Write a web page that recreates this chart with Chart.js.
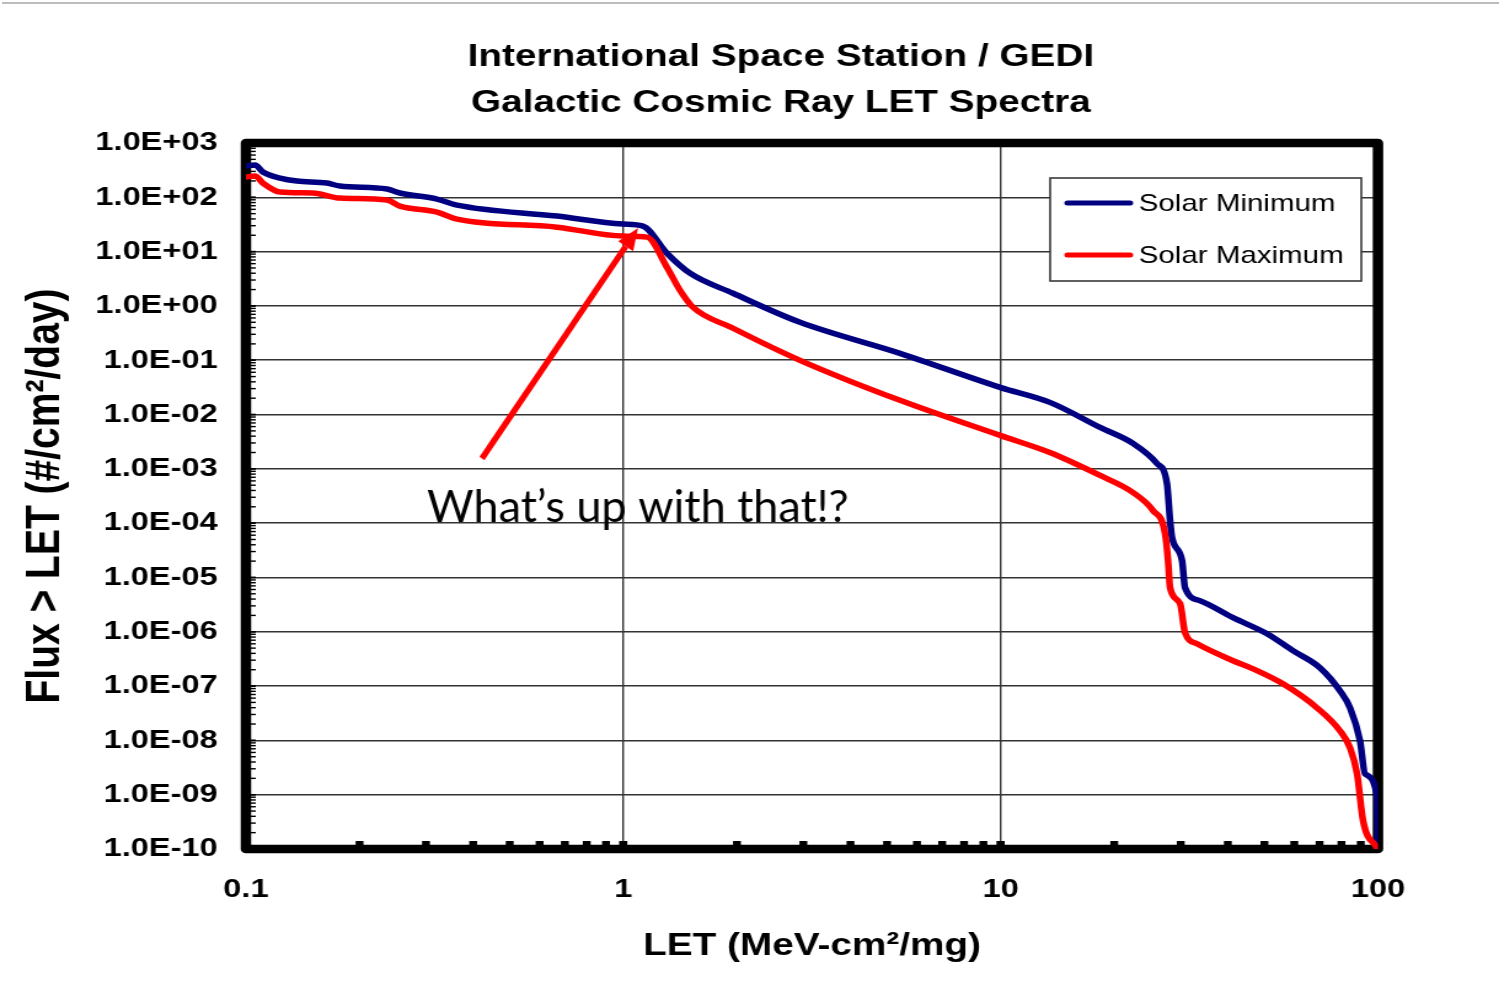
<!DOCTYPE html>
<html>
<head>
<meta charset="utf-8">
<script src="https://cdn.jsdelivr.net/npm/chart.js@4.4.0/dist/chart.umd.min.js"></script>
<style>
  html, body { margin: 0; padding: 0; background: #fff; overflow: hidden; }
  #slideLine { position: absolute; left: 2px; top: 2px; width: 1497px; height: 2px; background: #bdbdbd; }
  /* the chart picture in the slide is stretched sideways, so draw narrow and scale */
  #wrap { position: absolute; left: 0; top: 0; width: 1219px; height: 1004px; transform: scaleX(1.2297); transform-origin: 0 0; }
</style>
</head>
<body>
<div id="slideLine"></div>
<div id="wrap"><canvas id="letChart"></canvas></div>
<script>
const STRETCH = 1499 / 1219;

// LET values (MeV-cm2/mg) and integral flux (#/cm2/day)
const minLet = [0.1, 0.1057, 0.1109, 0.1231, 0.1365, 0.1639, 0.1774, 0.2364, 0.2558, 0.3208, 0.3624, 0.6672,
  0.998, 1.127, 1.305, 1.502, 1.953, 2.939, 5.41, 9.96, 13.5, 18.34, 22.42, 25.96, 27.59, 28.11, 28.45,
  30.24, 30.8, 33.75, 41.28, 50.8, 59.5, 70.2, 79.3, 84.3, 89.6, 92.4, 99.4, 100];
const minFlux = [377, 393, 292, 226, 199, 183, 161, 142, 120, 92.7, 71.9, 45.1,
  32.1, 29.5, 9.37, 4.01, 1.71, 0.5, 0.134, 0.0317, 0.01675, 0.00579, 0.00294, 0.001256, 5.37e-4, 1.12e-4, 5.43e-5,
  2.05e-5, 6.5e-6, 3.74e-6, 1.82e-6, 9.2e-7, 4.48e-7, 2.17e-7, 8.18e-8, 3.98e-8, 9.8e-9, 2.42e-9, 9.5e-10, 1e-10];

const maxLet = [0.1, 0.1057, 0.1109, 0.1231, 0.1505, 0.1774, 0.2364, 0.2558, 0.3208, 0.3624, 0.6672,
  0.998, 1.155, 1.305, 1.413, 1.53, 1.953, 2.939, 5.41, 9.96, 13.5, 18.34, 22.42, 25.33, 27.27, 27.77, 28.11,
  29.88, 30.8, 33.15, 41.28, 46.65, 56.0, 68.9, 79.3, 84.3, 88.0, 91.3, 99.4];
const maxFlux = [236, 246, 183, 125, 120, 96.8, 88.9, 68.9, 53.4, 39.7, 28.2,
  19.3, 18.5, 5.17, 1.95, 0.946, 0.388, 0.0997, 0.01824, 0.00413, 0.002, 7.55e-4, 3.67e-4, 1.71e-4, 6.43e-5, 2.05e-5, 6.5e-6,
  3.3e-6, 9.6e-7, 6.0e-7, 2.93e-7, 2.08e-7, 1.1e-7, 3.98e-8, 1.5e-8, 7.28e-9, 2.42e-9, 3.28e-10, 1.04e-10];

const seriesNames = ['Solar Minimum', 'Solar Maximum'];
const seriesColors = ['#000080', '#ff0000'];

const xTicks = [0.1, 1, 10, 100];
const yTicks = [1e-10, 1e-9, 1e-8, 1e-7, 1e-6, 1e-5, 1e-4, 1e-3, 1e-2, 1e-1, 1, 1e1, 1e2, 1e3];

const titleLines = ['International Space Station / GEDI', 'Galactic Cosmic Ray LET Spectra'];
const noteText = 'What\u2019s up with that!?';
const noteAt = [0.302, 1.0e-4];          // left end of text baseline, data coords
const arrowFrom = [0.422, 1.55e-3];
const arrowTo = [1.094, 27.1];

function sci(v) {
  const e = Math.round(Math.log10(v));
  const m = v / Math.pow(10, e);
  return m.toFixed(1) + 'E' + (e < 0 ? '-' : '+') + String(Math.abs(e)).padStart(2, '0');
}

function toPoints(xs, ys) {
  return xs.map((x, i) => ({ x: x, y: ys[i] }));
}

// frame, minor ticks, legend box, title and the note
const decor = {
  id: 'decor',
  beforeDatasetsDraw(chart) {
    const ctx = chart.ctx;
    const a = chart.chartArea;
    const xs = chart.scales.x, ys = chart.scales.y;
    ctx.save();
    ctx.fillStyle = '#000';
    // minor ticks along bottom
    for (let d = 0.1; d < 100; d *= 10) {
      for (let k = 1; k <= 10; k++) {
        const px = xs.getPixelForValue(d * k);
        ctx.fillRect(px - 3.2, a.bottom - 8, 6.4, 6);
      }
    }
    // minor ticks along left
    for (let d = 1e-10; d < 1e3; d *= 10) {
      for (let k = 1; k <= 10; k++) {
        const py = ys.getPixelForValue(d * k);
        ctx.fillRect(a.left, py - 0.7, 8, 1.4);
      }
    }
    ctx.strokeStyle = '#000';
    ctx.lineWidth = 8.5;
    ctx.lineJoin = 'round';
    ctx.strokeRect(a.left, a.top, a.right - a.left, a.bottom - a.top);
    ctx.restore();
  },
  afterDraw(chart) {
    const ctx = chart.ctx;
    const xs = chart.scales.x, ys = chart.scales.y;
    ctx.save();

    // title
    ctx.fillStyle = '#000';
    ctx.font = 'bold 31.5px "Liberation Sans", Arial, sans-serif';
    ctx.textAlign = 'center';
    ctx.textBaseline = 'alphabetic';
    ctx.fillText(titleLines[0], 635, 66);
    ctx.fillText(titleLines[1], 635, 112);

    // legend
    const bx = 854, by = 178, bw = 253, bh = 103;
    ctx.fillStyle = '#fff';
    ctx.fillRect(bx, by, bw, bh);
    ctx.strokeStyle = '#3a3a3a';
    ctx.lineWidth = 1.6;
    ctx.strokeRect(bx, by, bw, bh);
    ctx.font = '24px "Liberation Sans", Arial, sans-serif';
    ctx.textAlign = 'left';
    ctx.textBaseline = 'middle';
    ctx.lineCap = 'round';
    seriesNames.forEach((name, i) => {
      const ly = 203 + i * 52;
      ctx.strokeStyle = seriesColors[i];
      ctx.lineWidth = 5;
      ctx.beginPath();
      ctx.moveTo(868, ly);
      ctx.lineTo(919, ly);
      ctx.stroke();
      ctx.fillStyle = '#000';
      ctx.fillText(name, 926, ly + 1);
    });

    // note arrow and text sit on the slide, not inside the stretched picture
    ctx.scale(1 / STRETCH, 1);
    const x0 = xs.getPixelForValue(arrowFrom[0]) * STRETCH, y0 = ys.getPixelForValue(arrowFrom[1]);
    const x1 = xs.getPixelForValue(arrowTo[0]) * STRETCH, y1 = ys.getPixelForValue(arrowTo[1]);
    const ang = Math.atan2(y1 - y0, x1 - x0);
    const head = 22, half = 9;
    const hx = x1 - head * Math.cos(ang), hy = y1 - head * Math.sin(ang);
    ctx.strokeStyle = '#ff0000';
    ctx.fillStyle = '#ff0000';
    ctx.lineWidth = 6;
    ctx.lineCap = 'butt';
    ctx.beginPath();
    ctx.moveTo(x0, y0);
    ctx.lineTo(hx, hy);
    ctx.stroke();
    ctx.beginPath();
    ctx.moveTo(x1, y1);
    ctx.lineTo(hx + half * Math.sin(ang), hy - half * Math.cos(ang));
    ctx.lineTo(hx - half * Math.sin(ang), hy + half * Math.cos(ang));
    ctx.closePath();
    ctx.fill();

    ctx.fillStyle = '#000';
    ctx.font = '45px Lato, "Open Sans", sans-serif';
    ctx.textAlign = 'left';
    ctx.textBaseline = 'alphabetic';
    ctx.fillText(noteText, xs.getPixelForValue(noteAt[0]) * STRETCH, ys.getPixelForValue(noteAt[1]) - 1);
    ctx.restore();
  }
};

Chart.defaults.color = '#000';

new Chart(document.getElementById('letChart'), {
  type: 'line',
  data: {
    datasets: [
      { label: seriesNames[0], data: toPoints(minLet, minFlux), borderColor: seriesColors[0], order: 2 },
      { label: seriesNames[1], data: toPoints(maxLet, maxFlux), borderColor: seriesColors[1], order: 1 }
    ]
  },
  options: {
    responsive: true,
    maintainAspectRatio: false,
    animation: false,
    events: [],
    layout: { padding: { top: 143, right: 98.4, left: 0, bottom: 0 } },
    elements: {
      point: { radius: 0 },
      line: { borderWidth: 5.5, cubicInterpolationMode: 'monotone', borderJoinStyle: 'round', borderCapStyle: 'round' }
    },
    plugins: { legend: { display: false }, tooltip: { enabled: false } },
    scales: {
      x: {
        type: 'logarithmic',
        min: 0.1,
        max: 100,
        afterBuildTicks: (s) => { s.ticks = xTicks.map(v => ({ value: v })); },
        afterFit: (s) => { s.height = 155; },
        border: { display: false },
        grid: { color: '#333', lineWidth: 1.4, drawTicks: false },
        ticks: {
          padding: 25,
          autoSkip: false,
          maxRotation: 0,
          font: { family: '"Liberation Sans", Arial, sans-serif', size: 26.5, weight: 'bold' },
          callback: (v) => String(v)
        },
        title: {
          display: true,
          text: 'LET (MeV-cm\u00b2/mg)',
          font: { family: '"Liberation Sans", Arial, sans-serif', size: 31.5, weight: 'bold' },
          padding: { top: 0, bottom: 39 }
        }
      },
      y: {
        type: 'logarithmic',
        min: 1e-10,
        max: 1e3,
        afterBuildTicks: (s) => { s.ticks = yTicks.map(v => ({ value: v })); },
        afterFit: (s) => { s.width = 200; },
        border: { display: false },
        grid: { color: '#333', lineWidth: 1.6, drawTicks: false },
        ticks: {
          padding: 23,
          autoSkip: false,
          font: { family: '"Liberation Sans", Arial, sans-serif', size: 26.5, weight: 'bold' },
          callback: (v) => sci(v)
        },
        title: {
          display: true,
          text: 'Flux > LET (#/cm\u00b2/day)',
          font: { family: '"Liberation Sans", Arial, sans-serif', size: 39, weight: 'bold' },
          padding: { top: 14, bottom: 0 }
        }
      }
    }
  },
  plugins: [decor]
});
</script>
</body>
</html>
